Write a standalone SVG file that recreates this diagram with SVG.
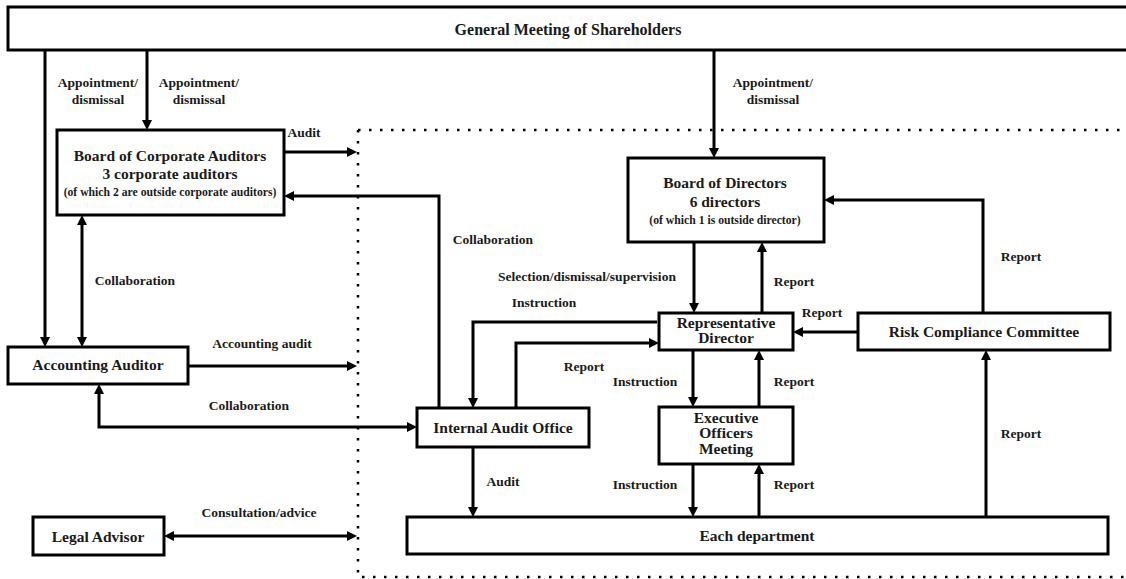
<svg xmlns="http://www.w3.org/2000/svg" width="1126" height="579" viewBox="0 0 1126 579">
<style>
.box{fill:#fff;stroke:#000;stroke-width:3}
.t{font-family:"Liberation Serif","Times New Roman",serif;font-weight:bold;font-size:15.5px;fill:#1a1a1a;text-anchor:middle}
.s{font-size:11.7px}
.l{font-family:"Liberation Serif","Times New Roman",serif;font-weight:bold;font-size:13.5px;fill:#1a1a1a;text-anchor:middle}
.c{fill:none;stroke:#000;stroke-width:3}
.a{marker-end:url(#ah)}
.b{marker-start:url(#ah);marker-end:url(#ah)}
.dot{fill:none;stroke:#000;stroke-width:2.5;stroke-dasharray:2.5 8.5}
</style>
<defs>
<marker id="ah" markerUnits="userSpaceOnUse" viewBox="0 0 10 10" refX="2" refY="5" markerWidth="10" markerHeight="10" orient="auto-start-reverse">
<path d="M0,0 L10,5 L0,10 z" fill="#000"/>
</marker>
</defs>
<rect width="1126" height="579" fill="#fff"/>
<g id="boundary">
<path class="dot" d="M358,130 H1126 M358,130 V577 H1126"/>
</g>
<g id="connectors">
<line class="c a" x1="45" y1="50" x2="45" y2="339"/>
<line class="c a" x1="147" y1="50" x2="147" y2="122"/>
<line class="c a" x1="714" y1="50" x2="714" y2="150"/>
<line class="c a" x1="284" y1="152" x2="349" y2="152"/>
<path class="c a" d="M439,408 V196 H292"/>
<line class="c b" x1="82" y1="223" x2="82" y2="339"/>
<line class="c a" x1="188" y1="366" x2="349" y2="366"/>
<path class="c b" d="M99,392 V427 H409"/>
<line class="c b" x1="172" y1="536" x2="349" y2="536"/>
<path class="c a" d="M657,322 H473 V400"/>
<path class="c a" d="M516,408 V343 H651"/>
<line class="c a" x1="694" y1="242" x2="694" y2="305"/>
<line class="c a" x1="762" y1="313" x2="762" y2="250"/>
<line class="c a" x1="858" y1="332" x2="801" y2="332"/>
<path class="c a" d="M983,313 V200 H832"/>
<line class="c a" x1="986" y1="517" x2="986" y2="358"/>
<line class="c a" x1="693" y1="350" x2="693" y2="399"/>
<line class="c a" x1="759" y1="407" x2="759" y2="358"/>
<line class="c a" x1="693" y1="464" x2="693" y2="509"/>
<line class="c a" x1="759" y1="517" x2="759" y2="472"/>
<line class="c a" x1="473" y1="447" x2="473" y2="509"/>
</g>
<g id="labels">
<text class="l" x="98" y="87">Appointment/</text>
<text class="l" x="98" y="104">dismissal</text>
<text class="l" x="199" y="87">Appointment/</text>
<text class="l" x="199" y="104">dismissal</text>
<text class="l" x="304" y="137">Audit</text>
<text class="l" x="773" y="87">Appointment/</text>
<text class="l" x="773" y="104">dismissal</text>
<text class="l" x="493" y="244">Collaboration</text>
<text class="l" x="135" y="285">Collaboration</text>
<text class="l" x="262" y="348">Accounting audit</text>
<text class="l" x="249" y="410">Collaboration</text>
<text class="l" x="259" y="517">Consultation/advice</text>
<text class="l" x="587" y="281">Selection/dismissal/supervision</text>
<text class="l" x="544" y="307">Instruction</text>
<text class="l" x="584" y="371">Report</text>
<text class="l" x="794" y="286">Report</text>
<text class="l" x="822" y="317">Report</text>
<text class="l" x="1021" y="261">Report</text>
<text class="l" x="1021" y="438">Report</text>
<text class="l" x="645" y="386">Instruction</text>
<text class="l" x="645" y="489">Instruction</text>
<text class="l" x="794" y="386">Report</text>
<text class="l" x="794" y="489">Report</text>
<text class="l" x="503" y="486">Audit</text>
</g>
<g id="gms">
<rect class="box" x="8" y="7" width="1125" height="43"/>
<text class="t" x="568" y="35" style="font-size:16px">General Meeting of Shareholders</text>
</g>
<g id="bca">
<rect class="box" x="57" y="130" width="227" height="85"/>
<text class="t" x="170" y="161">Board of Corporate Auditors</text>
<text class="t" x="170" y="179">3 corporate auditors</text>
<text class="t s" x="170" y="196">(of which 2 are outside corporate auditors)</text>
</g>
<g id="aa">
<rect class="box" x="8" y="347" width="180" height="37"/>
<text class="t" x="98" y="370">Accounting Auditor</text>
</g>
<g id="legal">
<rect class="box" x="33" y="517" width="131" height="38"/>
<text class="t" x="98" y="542">Legal Advisor</text>
</g>
<g id="bod">
<rect class="box" x="628" y="158" width="196" height="84"/>
<text class="t" x="725" y="188">Board of Directors</text>
<text class="t" x="725" y="207">6 directors</text>
<text class="t s" x="725" y="224">(of which 1 is outside director)</text>
</g>
<g id="rep">
<rect class="box" x="659" y="313" width="134" height="37"/>
<text class="t" x="726" y="328">Representative</text>
<text class="t" x="726" y="343">Director</text>
</g>
<g id="rcc">
<rect class="box" x="858" y="313" width="252" height="37"/>
<text class="t" x="984" y="337">Risk Compliance Committee</text>
</g>
<g id="iao">
<rect class="box" x="417" y="408" width="172" height="39"/>
<text class="t" x="503" y="433">Internal Audit Office</text>
</g>
<g id="eom">
<rect class="box" x="659" y="407" width="134" height="57"/>
<text class="t" x="726" y="423">Executive</text>
<text class="t" x="726" y="438">Officers</text>
<text class="t" x="726" y="454">Meeting</text>
</g>
<g id="dept">
<rect class="box" x="407" y="517" width="701" height="37"/>
<text class="t" x="757" y="541">Each department</text>
</g>
</svg>
